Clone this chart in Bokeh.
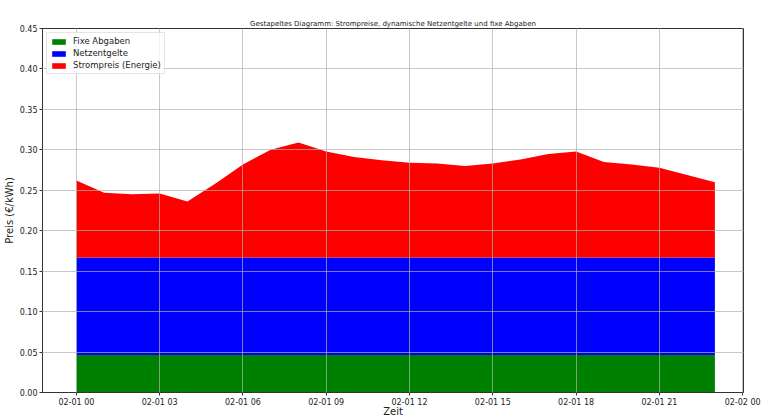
from bokeh.plotting import figure
from bokeh.models import ColumnDataSource, FixedTicker, NumeralTickFormatter, Range1d
from bokeh.embed import file_html
from bokeh.resources import INLINE

# ---- data ----
hours = list(range(24))
fixe_abgaben = [0.0465] * 24
netzentgelte = [0.1205] * 24
strompreis = [0.095, 0.080, 0.078, 0.079, 0.069, 0.091, 0.115, 0.133, 0.142, 0.131,
              0.124, 0.120, 0.117, 0.116, 0.113, 0.116, 0.121, 0.128, 0.131, 0.118,
              0.115, 0.111, 0.102, 0.093]
tick_hours = [0, 3, 6, 9, 12, 15, 18, 21, 24]
tick_labels = ["02-01 00", "02-01 03", "02-01 06", "02-01 09", "02-01 12",
               "02-01 15", "02-01 18", "02-01 21", "02-02 00"]
y_ticks = [0.0, 0.05, 0.10, 0.15, 0.20, 0.25, 0.30, 0.35, 0.40, 0.45]
series_names = ["Fixe Abgaben", "Netzentgelte", "Strompreis (Energie)"]
series_colors = ["#008000", "#0000ff", "#ff0000"]

source = ColumnDataSource(dict(x=hours, fix=fixe_abgaben, netz=netzentgelte, strom=strompreis))

FONT = "DejaVu Sans"

p = figure(frame_width=701, frame_height=364, output_backend="svg", toolbar_location=None,
           x_range=Range1d(-1.22, 24.03), y_range=Range1d(0, 0.45),
           title="Gestapeltes Diagramm: Strompreise, dynamische Netzentgelte und fixe Abgaben",
           min_border_left=35, min_border_right=19, min_border_top=28, min_border_bottom=20)

p.varea_stack(["fix", "netz", "strom"], x="x", color=series_colors, source=source,
              legend_label=series_names)

p.title.align = "center"
p.title.vertical_align = "bottom"
p.title.text_font = FONT
p.title.text_font_size = "7px"
p.title.text_font_style = "normal"
p.title.text_color = "#222222"
p.title.standoff = 1

p.xaxis.ticker = FixedTicker(ticks=tick_hours)
p.xaxis.major_label_overrides = {t: l for t, l in zip(tick_hours, tick_labels)}
p.yaxis.ticker = FixedTicker(ticks=y_ticks)
p.yaxis.formatter = NumeralTickFormatter(format="0.00")

for ax in (p.xaxis, p.yaxis):
    ax.major_label_text_font = FONT
    ax.major_label_text_font_size = "8px"
    ax.major_label_text_color = "#222222"
    ax.axis_label_text_font = FONT
    ax.axis_label_text_font_size = "10px"
    ax.axis_label_text_font_style = "normal"
    ax.axis_label_text_color = "#222222"
    ax.minor_tick_line_color = None
    ax.major_tick_out = 3
    ax.major_tick_in = 0
    ax.major_tick_line_color = "#333333"
    ax.axis_line_color = "#333333"
    ax.major_label_standoff = 2

p.xaxis.axis_label_standoff = -4
p.yaxis.axis_label_standoff = 2

p.xaxis.axis_label = "Zeit"
p.yaxis.axis_label = "Preis (€/kWh)"

for g in (p.xgrid, p.ygrid):
    g.grid_line_color = "#b0b0b0"
    g.grid_line_alpha = 0.7
    g.grid_line_width = 1
    g.level = "guide"

p.outline_line_color = "#333333"
p.outline_line_width = 1

p.legend.location = "top_left"
p.legend.margin = 4
p.legend.padding = 3
p.legend.spacing = 2
p.legend.label_text_font = FONT
p.legend.label_text_font_size = "8.5px"
p.legend.label_text_color = "#222222"
p.legend.label_height = 10
p.legend.glyph_height = 7
p.legend.glyph_width = 17
p.legend.label_standoff = 6
p.legend.border_line_color = "#cccccc"
p.legend.background_fill_alpha = 0.8

open("out.html", "w").write(file_html(p, INLINE))
